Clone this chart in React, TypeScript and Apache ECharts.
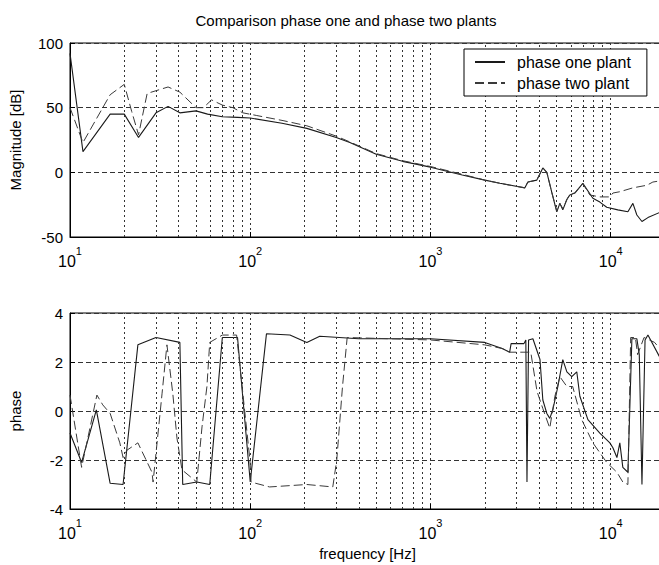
import React, { useEffect, useRef } from 'react';
import * as echarts from 'echarts';

// ---- Magnitude [dB] ----
const magOneFreq = [10, 11.8, 16.7, 20, 24, 30, 35, 40.7, 50, 58, 70, 85, 100, 150, 206, 300, 357, 500, 700, 1000, 1500, 2000, 2430, 3340, 3470, 3890, 4200, 4420, 4720, 5020, 5220, 5420, 5710, 5930, 6320, 7000, 7960, 8700, 9500, 10950, 12450, 13270, 13960, 14900, 16080, 18700, 20000];
const magOne = [92, 16, 45, 45, 27, 46, 51, 46, 47.5, 45, 43, 42.5, 42, 38, 34, 27, 23, 14, 8.5, 4, -2, -6, -8.5, -12, -7.5, -6, 3.4, 0, -16, -30.5, -24, -29, -21, -17.5, -16, -8.5, -20, -23, -27, -29, -30.5, -24, -33, -38, -35, -31, -30];

const magTwoFreq = [10, 11.8, 13.4, 16.7, 20, 22, 24, 26.8, 35, 40.7, 50, 55, 61, 70, 80, 91, 108, 152, 206, 300, 357, 500, 700, 1000, 1500, 2000, 2430, 3340, 3470, 3890, 4200, 4420, 4720, 5020, 5220, 5420, 5710, 5930, 6320, 7000, 7650, 8700, 9890, 10280, 11230, 13270, 15850, 17130, 20000];
const magTwo = [50, 23, 36.6, 60, 68, 47, 29, 61, 66, 62, 50, 50, 56, 52, 50, 46, 44, 40, 36, 28, 23.5, 14.5, 9, 4.5, -1.5, -6, -8.5, -12, -7.5, -6, 3.4, 0, -16, -30, -24, -28, -21, -17, -16, -8.5, -17.5, -19, -19, -16, -15, -12, -10, -7.5, -6];

// ---- Phase ----
const phaseOneFreq = [10, 11.6, 14, 16.7, 19.7, 23.8, 30, 40.7, 42.2, 50.5, 59.6, 70, 85, 100, 123, 166, 206, 243, 400, 1000, 2000, 2500, 2750, 2800, 3300, 3380, 3430, 3500, 3700, 4050, 4200, 4420, 4590, 4770, 5090, 5420, 5710, 6080, 6480, 6740, 7470, 8700, 9890, 10280, 10820, 11230, 11670, 12450, 13100, 13960, 14400, 14900, 15500, 16080, 18700, 20000];
const phaseOne = [-0.9, -2.1, 0.05, -2.95, -3.0, 2.7, 3.0, 2.8, -3.0, -2.9, -3.0, 3.0, 3.0, -2.9, 3.15, 3.1, 2.8, 3.05, 2.95, 2.95, 2.8, 2.55, 2.4, 2.75, 2.75, 2.9, -2.9, 2.9, 2.95, 2.1, 0.45, -0.1, -0.3, 0.05, 1.0, 2.1, 1.6, 1.4, 1.6, 0.6, -0.35, -0.9, -1.3, -1.5, -1.9, -1.3, -2.3, -2.5, 2.95, 2.95, 2.3, -3.0, 2.9, 3.1, 2.2, 2.0];

const phaseTwoFreq = [10, 11.6, 14.1, 15.2, 16.7, 18.9, 19.7, 20.7, 23.8, 28.5, 28.9, 32.4, 34.5, 37.2, 39.2, 41.8, 50.5, 54, 57.5, 59.6, 70, 84, 99.6, 101, 128, 206, 287, 302, 325, 345, 1000, 2000, 2500, 2750, 3300, 3600, 3900, 4200, 4590, 4900, 5220, 5710, 6150, 6900, 7960, 9500, 10820, 11670, 12450, 12900, 13700, 14100, 15300, 17500, 20000];
const phaseTwo = [0.65, -2.3, 0.65, 0.25, -0.1, -1.3, -1.9, -1.6, -1.3, -2.5, -2.9, 0.7, 2.7, 0.7, -1.1, -2.4, -2.9, -0.65, 1.0, 2.8, 3.1, 3.1, -2.0, -2.9, -3.1, -3.0, -3.1, -2.0, 1.0, 3.0, 2.9, 2.7, 2.55, 2.4, 2.4, 2.4, 0.8, 0.1, -0.7, 0.6, 1.4, 1.0, 1.0, -0.35, -1.3, -2.1, -2.5, -2.9, -3.0, 3.0, 3.0, 2.3, 3.0, 2.8, 2.3];

// minor grid positions of the log axis
const minorGridFreqs = [20, 30, 40, 50, 60, 70, 80, 90, 200, 300, 400, 500, 600, 700, 800, 900, 2000, 3000, 4000, 5000, 6000, 7000, 8000, 9000];

const seriesNames = ['phase one plant', 'phase two plant'];
const titleText = 'Comparison phase one and phase two plants';

const FONT = "'Liberation Sans', Arial, Helvetica, sans-serif";

const zip = (f: number[], v: number[]) => f.map((x, i) => [x, v[i]]);

export default function App() {
  const ref = useRef<HTMLDivElement>(null);

  useEffect(() => {
    document.body.style.margin = '0';
    document.body.style.overflow = 'hidden';
    const chart = echarts.init(ref.current!, null, { renderer: 'svg' });

    const gridLineV = { color: '#333', type: [2, 3], width: 1 };
    const gridLineH = { color: '#333', type: [5, 3], width: 1 };

    const xAxisFor = (gridIndex: number, name: string) => ({
      type: 'log',
      logBase: 10,
      min: 10,
      max: 20000,
      gridIndex,
      name,
      nameLocation: 'middle',
      nameGap: 37,
      nameTextStyle: { fontSize: 15, color: '#000', fontFamily: FONT },
      axisLine: { show: true, onZero: false, lineStyle: { color: '#000', width: 1 } },
      axisTick: { show: true, inside: true, length: 5, lineStyle: { color: '#000' } },
      axisLabel: {
        margin: 8,
        showMaxLabel: false,
        color: '#000',
        formatter: (v: number) => {
          const e = Math.log10(v);
          if (Math.abs(e - Math.round(e)) > 1e-6) return '';
          return `{b|10}{s|${Math.round(e)}}`;
        },
        rich: {
          b: { fontSize: 16, lineHeight: 16, padding: [8, 0, 0, 0], verticalAlign: 'top', color: '#000', fontFamily: FONT },
          s: { fontSize: 11, lineHeight: 11, verticalAlign: 'top', color: '#000', fontFamily: FONT },
        },
      },
      splitLine: { show: true, lineStyle: gridLineV },
    });

    const yAxisFor = (gridIndex: number, name: string, min: number, max: number, interval: number) => ({
      type: 'value',
      gridIndex,
      min,
      max,
      interval,
      name,
      nameLocation: 'middle',
      nameGap: 47,
      nameTextStyle: { fontSize: 15, color: '#000', fontFamily: FONT },
      axisLine: { show: true, onZero: false, lineStyle: { color: '#000', width: 1 } },
      axisTick: { show: true, inside: true, length: 5, lineStyle: { color: '#000' } },
      axisLabel: { fontSize: 15, margin: 7, color: '#000', fontFamily: FONT },
      splitLine: { show: true, lineStyle: gridLineH },
    });

    const minorMarkLine = {
      silent: true,
      symbol: ['none', 'none'],
      label: { show: false },
      lineStyle: gridLineV,
      emphasis: { disabled: true },
      data: minorGridFreqs.map((v) => ({ xAxis: v })),
    };

    const solidStyle = { color: '#1a1a1a', width: 1.1, type: 'solid' };
    const dashStyle = { color: '#3a3a3a', width: 1, type: [9, 4] };

    const mkSeries = (name: string, data: number[][], idx: number, style: any, withGrid: boolean) => ({
      name,
      type: 'line',
      xAxisIndex: idx,
      yAxisIndex: idx,
      data,
      symbol: 'none',
      showSymbol: false,
      silent: true,
      lineStyle: style,
      itemStyle: { color: style.color },
      emphasis: { disabled: true },
      ...(withGrid ? { markLine: minorMarkLine } : {}),
    });

    chart.setOption({
      animation: false,
      backgroundColor: '#fff',
      textStyle: { fontFamily: FONT, color: '#000' },
      tooltip: { show: false },
      graphic: [
        {
          type: 'text',
          x: 346,
          y: 20,
          style: {
            text: titleText,
            fontSize: 15,
            fontFamily: FONT,
            fill: '#000',
            textAlign: 'center',
            textVerticalAlign: 'middle',
          },
        },
      ],
      legend: {
        data: seriesNames,
        orient: 'vertical',
        left: 464,
        top: 49,
        z: 20,
        padding: [5, 16, 5, 10],
        itemGap: 5,
        itemWidth: 30,
        itemHeight: 12,
        backgroundColor: '#fff',
        borderColor: '#000',
        borderWidth: 1,
        borderRadius: 0,
        selectedMode: false,
        itemStyle: { opacity: 0 },
        textStyle: { fontSize: 16, color: '#000', fontFamily: FONT, padding: [0, 0, 0, 7] },
      },
      grid: [
        { left: 70, top: 43, width: 595, height: 194, show: true, borderColor: '#000', borderWidth: 1, backgroundColor: 'transparent' },
        { left: 70, top: 313, width: 595, height: 196, show: true, borderColor: '#000', borderWidth: 1, backgroundColor: 'transparent' },
      ],
      xAxis: [xAxisFor(0, ''), xAxisFor(1, 'frequency [Hz]')],
      yAxis: [
        yAxisFor(0, 'Magnitude [dB]', -50, 100, 50),
        yAxisFor(1, 'phase', -4, 4, 2),
      ],
      series: [
        mkSeries(seriesNames[0], zip(magOneFreq, magOne), 0, solidStyle, true),
        mkSeries(seriesNames[1], zip(magTwoFreq, magTwo), 0, dashStyle, false),
        mkSeries(seriesNames[0], zip(phaseOneFreq, phaseOne), 1, solidStyle, true),
        mkSeries(seriesNames[1], zip(phaseTwoFreq, phaseTwo), 1, dashStyle, false),
      ],
    });

    return () => chart.dispose();
  }, []);

  return (
    <div style={{ width: 659, height: 565, overflow: 'hidden', position: 'relative', background: '#fff' }}>
      <div ref={ref} style={{ position: 'absolute', left: 0, top: 0, width: 666, height: 565 }} />
    </div>
  );
}
